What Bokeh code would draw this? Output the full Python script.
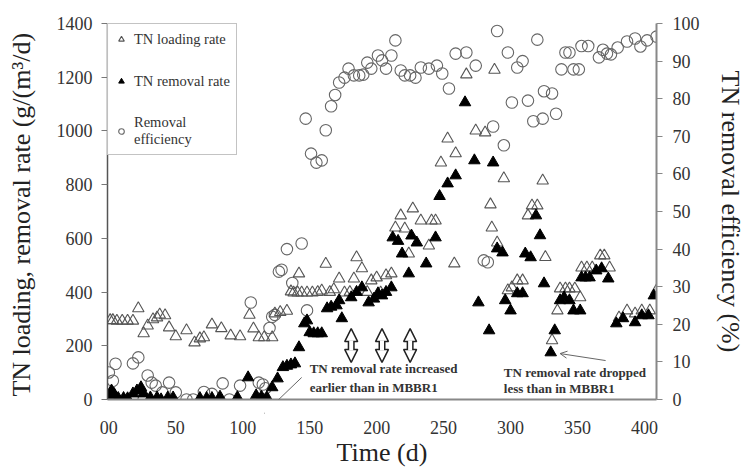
from bokeh.plotting import figure
from bokeh.models import (Range1d, LinearAxis, Legend, LegendItem, Arrow, NormalHead,
                          OpenHead, Label, FixedTicker)
from bokeh.embed import file_html
from bokeh.resources import INLINE

# ---------------- data ----------------
load_day = [1, 3, 6, 10, 14, 18, 22, 26, 29, 33, 36, 38, 42, 45, 50, 58, 64, 68, 71, 77,
            84, 91, 98, 105, 108, 112, 116, 122, 124, 128, 133, 136, 138, 141, 142, 144,
            148, 152, 156, 159, 162, 165, 168, 172, 176, 180, 183, 185, 189, 193, 196,
            200, 203, 207, 211, 214, 218, 221, 224, 227, 233, 239, 241, 244, 248, 253,
            258, 259, 267, 274, 281, 285, 286, 288, 290, 295, 298, 301, 305, 309, 313,
            316, 320, 324, 326, 331, 335, 337, 341, 344, 348, 352, 353, 357, 361, 367,
            370, 374, 381, 387, 393, 398, 404, 409]
load_val = [295, 295, 293, 293, 293, 293, 339, 246, 275, 298, 305, 316, 313, 268, 235, 257,
            212, 227, 231, 279, 265, 238, 235, 315, 264, 231, 231, 231, 320, 325, 330, 402,
            398, 398, 469, 398, 398, 398, 400, 405, 505, 400, 410, 450, 398, 400, 450, 529,
            488, 400, 443, 454, 398, 462, 469, 640, 685, 636, 543, 711, 666, 573, 666, 666,
            882, 971, 506, 916, 1210, 1001, 994, 726, 640, 1227, 584, 823, 406, 417, 443,
            443, 685, 722, 722, 815, 530, 220, 331, 413, 413, 413, 413, 380, 491, 491, 491,
            536, 536, 491, 305, 331, 320, 331, 331, 406]

rem_day = [0, 2, 4, 7, 11, 14, 18, 21, 24, 26, 31, 36, 39, 44, 48, 68, 73, 77, 83, 96,
           104, 110, 114, 118, 122, 126, 130, 133, 136, 139, 142, 146, 148, 150, 153, 156,
           159, 163, 166, 170, 172, 174, 181, 185, 189, 194, 198, 201, 204, 207, 211, 212,
           216, 219, 224, 226, 230, 237, 244, 247, 253, 259, 266, 273, 276, 284, 287, 290,
           294, 296, 300, 305, 309, 311, 315, 319, 322, 325, 330, 333, 337, 340, 344, 347,
           352, 353, 356, 359, 364, 368, 373, 379, 384, 393, 398, 403, 407]
rem_val = [15, 33, 20, 5, 5, 4, 22, 33, 45, 22, 7, 7, 0, 7, 7, 5, 5, 5, 10, 8,
           82, 15, 10, 8, 45, 78, 120, 125, 130, 134, 194, 283, 294, 250, 246, 246,
           246, 339, 345, 350, 369, 302, 380, 400, 417, 361, 375, 395, 387, 400, 417, 603,
           590, 543, 469, 610, 584, 506, 603, 757, 804, 834, 1106, 890, 361, 257, 882, 562,
           547, 369, 331, 395, 395, 543, 529, 685, 611, 432, 175, 257, 369, 380, 369, 331,
           331, 454, 454, 454, 480, 488, 450, 283, 302, 287, 313, 313, 387]

eff_day = [0, 3, 5, 18, 22, 26, 29, 32, 35, 40, 45, 50, 58, 63, 71, 77, 85, 90, 98, 106,
           112, 115, 117, 120, 122, 124, 127, 129, 133, 137, 144, 147, 148, 151, 155, 159,
           162, 166, 169, 172, 176, 179, 183, 187, 190, 193, 196, 201, 204, 207, 211, 214,
           218, 221, 225, 229, 233, 239, 245, 249, 254, 259, 267, 274, 280, 283, 287, 290,
           295, 298, 301, 305, 309, 313, 317, 320, 324, 325, 331, 334, 338, 341, 344, 347,
           351, 353, 358, 366, 369, 372, 375, 380, 387, 393, 397, 402, 409]
eff_val = [7.2, 5.0, 9.5, 9.6, 11.2, 0, 6.4, 4.5, 3.7, 1.9, 4.5, 1.9, 0, 0, 2.0, 1.5, 4.3, 0,
           3.7, 25.8, 4.5, 4.0, 3.0, 19.0, 22.0, 22.5, 34.0, 34.5, 40.0, 31.0, 41.5, 74.7,
           23.7, 65.4, 63.0, 63.6, 71.6, 78.0, 81.0, 84.3, 85.6, 88.0, 86.2, 86.2, 86.4,
           89.6, 88.0, 91.5, 90.2, 88.0, 91.5, 95.5, 87.5, 86.2, 86.2, 85.6, 88.3, 88.0,
           88.8, 86.7, 82.7, 92.0, 92.3, 88.8, 37.0, 36.5, 72.6, 98.0, 67.6, 92.3, 79.0,
           88.3, 90.0, 79.5, 74.0, 95.7, 74.7, 82.0, 81.4, 76.0, 87.8, 92.3, 92.3, 87.8,
           87.8, 94.0, 94.0, 91.0, 93.0, 92.0, 91.8, 93.6, 95.2, 96.0, 93.9, 95.5, 96.5]

x_ticks = [0, 50, 100, 150, 200, 250, 300, 350, 400]
left_ticks = [0, 200, 400, 600, 800, 1000, 1200, 1400]
right_ticks = [0, 10, 20, 30, 40, 50, 60, 70, 80, 90, 100]

SERIF = "Liberation Serif"

p = figure(width=747, height=473, output_backend="svg", toolbar_location=None,
           x_range=Range1d(-1, 409), y_range=Range1d(0, 1400),
           min_border_left=107, min_border_right=87, min_border_top=23,
           min_border_bottom=74)
p.outline_line_color = None
p.xgrid.grid_line_color = None
p.ygrid.grid_line_color = None
p.background_fill_color = "white"
p.border_fill_color = "white"
p.extra_y_ranges = {"eff": Range1d(0, 100)}

r_eff = p.scatter(eff_day, eff_val, y_range_name="eff", marker="circle", size=11.5,
                  fill_color=None, line_color="#666666", line_width=1.1)
r_load = p.scatter(load_day, load_val, marker="triangle", size=11.5,
                   fill_color=None, line_color="#555555", line_width=1.1)
r_rem = p.scatter(rem_day, rem_val, marker="triangle", size=11.5,
                  fill_color="black", line_color="black", line_width=1)

# axes
xa = p.xaxis[0]
xa.ticker = FixedTicker(ticks=x_ticks)
xa.major_label_overrides = {0: "00"}
xa.axis_label = "Time (d)"
xa.major_tick_out = 0
xa.major_tick_in = 0
xa.minor_tick_out = 0
xa.minor_tick_in = 0
xa.axis_line_color = "#888888"
xa.axis_line_width = 2
xa.major_label_standoff = 21
xa.axis_label_standoff = 1

ya = p.yaxis[0]
ya.ticker = FixedTicker(ticks=left_ticks)
ya.axis_label = "TN loading, removal  rate (g/(m\u00b3/d)"
ya.major_tick_out = 6
ya.major_tick_in = 0
ya.minor_tick_out = 0
ya.minor_tick_in = 0
ya.axis_line_color = "#555555"
ya.axis_line_width = 1.5
ya.major_tick_line_color = "#777777"
ya.major_label_standoff = 9
ya.axis_label_standoff = 18

ra = LinearAxis(y_range_name="eff", ticker=FixedTicker(ticks=right_ticks),
                axis_label="TN removal efficiency (%)")
ra.major_tick_out = 6
ra.major_tick_in = 0
ra.minor_tick_out = 0
ra.minor_tick_in = 0
ra.axis_line_color = "#888888"
ra.axis_line_width = 2
ra.major_tick_line_color = "#888888"
ra.major_label_standoff = 10
ra.axis_label_standoff = 13
p.add_layout(ra, "right")

for ax in [xa, ya, ra]:
    ax.major_label_text_font = SERIF
    ax.major_label_text_font_size = "18px"
    ax.major_label_text_color = "#333333"
    ax.axis_label_text_font = SERIF
    ax.axis_label_text_font_size = "26px"
    ax.axis_label_text_font_style = "normal"
    ax.axis_label_text_color = "#222222"

# legend
legend = Legend(items=[
    LegendItem(label="TN loading rate", renderers=[r_load]),
    LegendItem(label="TN removal rate", renderers=[r_rem]),
    LegendItem(label="Removal\nefficiency", renderers=[r_eff]),
], location="top_left", margin=0)
legend.label_text_font = SERIF
legend.label_text_font_size = "14.5px"
legend.label_text_color = "#333333"
legend.border_line_color = "#888888"
legend.border_line_width = 1.5
legend.padding = 6
legend.spacing = 24
legend.glyph_width = 14
legend.glyph_height = 18
legend.label_height = 18
legend.label_standoff = 6
legend.background_fill_color = "white"
p.add_layout(legend)

# hollow double arrows (outline of a block arrow)
HEAD = 13
for xa_pos in [181, 204, 225]:
    p.add_layout(Arrow(x_start=xa_pos, y_start=138, x_end=xa_pos, y_end=264,
                       start=NormalHead(size=HEAD, fill_color="white", line_color="#222222",
                                        line_width=1.5),
                       end=NormalHead(size=HEAD, fill_color="white", line_color="#222222",
                                      line_width=1.5),
                       line_color="#222222", line_width=7))
    p.add_layout(Arrow(x_start=xa_pos, y_start=138 + 44, x_end=xa_pos, y_end=264 - 44,
                       start=None, end=None, line_color="white", line_width=4))

# annotation texts
for (tx, ty, t) in [(150, 115, "TN removal rate increased"),
                    (150, 45, "earlier than in MBBR1"),
                    (295, 100, "TN removal rate dropped"),
                    (295, 41, "less than  in MBBR1")]:
    p.add_layout(Label(x=tx, y=ty, text=t, text_font=SERIF, text_font_size="13px",
                       text_font_style="bold", text_color="#333333",
                       text_baseline="middle", text_align="left"))

p.add_layout(Arrow(x_start=144, y_start=82, x_end=116, y_end=-52,
                   end=OpenHead(size=7, line_color="#666666", line_width=1),
                   line_color="#666666", line_width=1))
p.add_layout(Arrow(x_start=371, y_start=145, x_end=337, y_end=171,
                   end=OpenHead(size=7, line_color="#666666", line_width=1),
                   line_color="#666666", line_width=1))

open("out.html", "w").write(file_html(p, INLINE))
